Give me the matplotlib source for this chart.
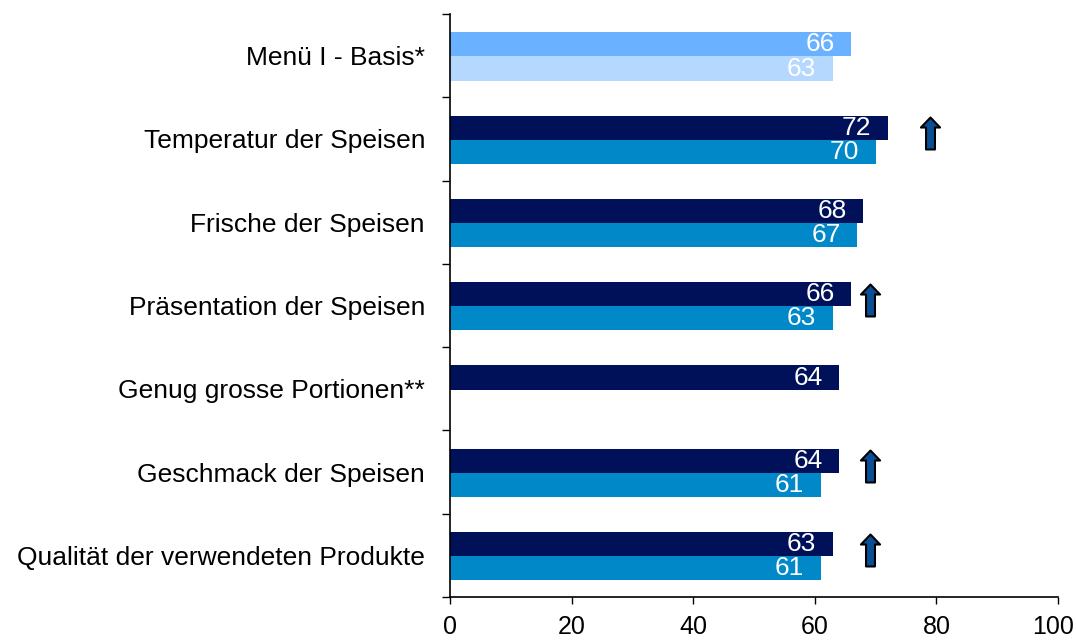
import matplotlib
matplotlib.use("Agg")
import matplotlib.pyplot as plt
import matplotlib.transforms as mtransforms
import numpy as np
from matplotlib.path import Path

plt.rcParams['font.family'] = ['Liberation Sans', 'DejaVu Sans']

categories = ["Menü I - Basis*", "Temperatur der Speisen", "Frische der Speisen",
              "Präsentation der Speisen", "Genug grosse Portionen**",
              "Geschmack der Speisen", "Qualität der verwendeten Produkte"]
current = [66, 72, 68, 66, 64, 64, 63]
previous = [63, 70, 67, 63, None, 61, 61]
arrow_idx = [1, 3, 5, 6]
arrow_x = [79, 69, 69, 69]
xticks = [0, 20, 40, 60, 80, 100]

col_cur = ["#6AB2FF"] + ["#001159"] * 6
col_prev = ["#B5D8FF"] + ["#0088C8"] * 6

fig = plt.figure(figsize=(10.76, 6.41), dpi=100)
ax = fig.add_axes([450/1076, 1 - 597/641, 608/1076, (597-14)/641])

bh = 0.29
y = np.arange(len(categories))
for i in range(len(categories)):
    yc = y[i] - bh/2 + 0.01
    ax.barh(yc, current[i], height=bh, color=col_cur[i])
    ax.annotate(str(current[i]), (current[i], yc), xytext=(-12, 0), textcoords='offset points',
                ha='right', va='center', color='white', fontsize=19)
    if previous[i] is not None:
        yp = y[i] + bh/2 + 0.01
        ax.barh(yp, previous[i], height=bh, color=col_prev[i])
        ax.annotate(str(previous[i]), (previous[i], yp), xytext=(-12, 0), textcoords='offset points',
                    ha='right', va='center', color='white', fontsize=19)

verts = [(0, 1), (0.6, 0.375), (0.28, 0.375), (0.28, -1), (-0.28, -1), (-0.28, 0.375), (-0.6, 0.375), (0, 1)]
codes = [Path.MOVETO] + [Path.LINETO] * 6 + [Path.CLOSEPOLY]
arrow_marker = Path(verts, codes)
for i, xa in zip(arrow_idx, arrow_x):
    ax.plot([xa], [y[i] - 0.07], marker=arrow_marker, markersize=23,
            markerfacecolor="#0A4F96", markeredgecolor="black", markeredgewidth=1.5, linestyle='none')

ax.set_xlim(0, 100)
ax.set_ylim(len(categories) - 0.5, -0.5)
ax.set_xticks(xticks)
ax.set_xticklabels([str(t) for t in xticks], fontsize=18)
ax.tick_params(axis='x', length=5, width=1, direction='out', pad=8)
last = ax.get_xticklabels()[-1]
last.set_transform(last.get_transform() + mtransforms.ScaledTranslation(-5/100, 0, fig.dpi_scale_trans))
ax.set_yticks(y)
ax.set_yticklabels(categories, fontsize=19)
ax.tick_params(axis='y', which='major', length=0, pad=18)
ax.set_yticks(np.arange(-0.5, len(categories) + 0.5, 1), minor=True)
ax.tick_params(axis='y', which='minor', length=6, width=1, direction='out')
for s in ['top', 'right']:
    ax.spines[s].set_visible(False)
for s in ['left', 'bottom']:
    ax.spines[s].set_linewidth(1.2)
    ax.spines[s].set_color('black')

fig.savefig("out.png", dpi=100)
